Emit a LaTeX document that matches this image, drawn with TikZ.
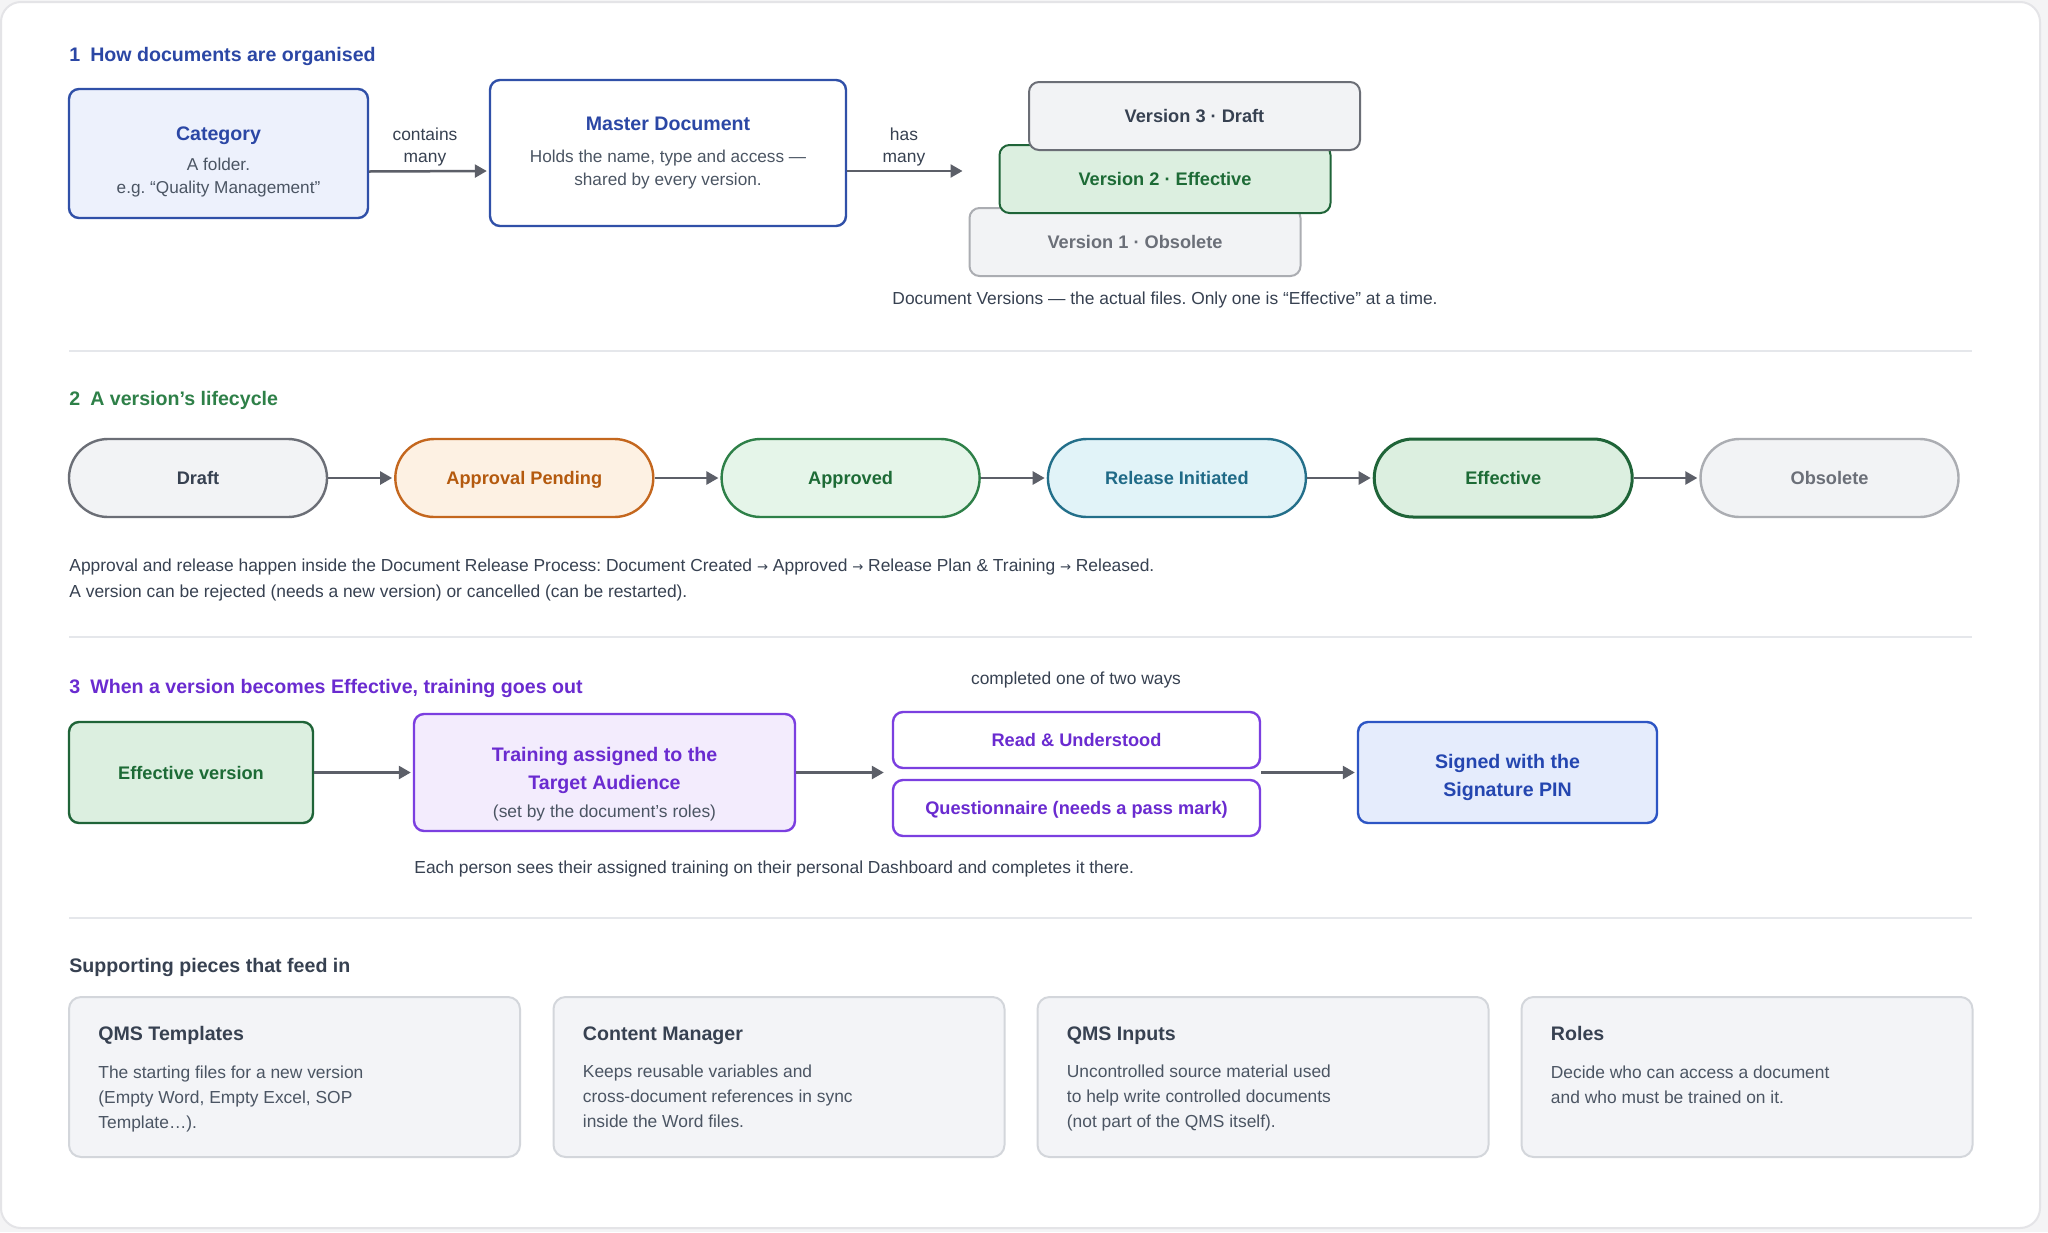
\documentclass[tikz,border=0pt]{standalone}
\usepackage{fontspec}
\setmainfont{Liberation Sans}
\newfontfamily\arrowfont{DejaVu Sans}
\usetikzlibrary{arrows.meta}
\frenchspacing

\definecolor{pagebg}{HTML}{F4F4F5}
\definecolor{frameline}{HTML}{E4E4E7}
\definecolor{ruleline}{HTML}{E5E7EB}
\definecolor{ink}{HTML}{374151}
\definecolor{muted}{HTML}{4B5563}
\definecolor{arrowgray}{HTML}{5C5F68}
\definecolor{blueink}{HTML}{2B47A5}
\definecolor{blueline}{HTML}{3050A8}
\definecolor{bluefill}{HTML}{EDF1FC}
\definecolor{grayfill}{HTML}{F2F3F5}
\definecolor{grayline}{HTML}{6B6E76}
\definecolor{paleline}{HTML}{ABADB2}
\definecolor{paleink}{HTML}{6B6F78}
\definecolor{greenink}{HTML}{1D6B36}
\definecolor{greenfill}{HTML}{DCEFE0}
\definecolor{greenline}{HTML}{1F6438}
\definecolor{lightgreen}{HTML}{E5F5E9}
\definecolor{midgreen}{HTML}{2E8048}
\definecolor{orangeink}{HTML}{B45A0E}
\definecolor{orangefill}{HTML}{FDF1E3}
\definecolor{orangeline}{HTML}{C4671E}
\definecolor{tealink}{HTML}{1F6A87}
\definecolor{tealfill}{HTML}{E1F3F8}
\definecolor{tealline}{HTML}{236F8A}
\definecolor{purpleink}{HTML}{6A2BD0}
\definecolor{purplefill}{HTML}{F3ECFD}
\definecolor{purpleline}{HTML}{7B3FE0}
\definecolor{signink}{HTML}{2446B0}
\definecolor{signfill}{HTML}{E5ECFC}
\definecolor{signline}{HTML}{2D55C4}
\definecolor{cardfill}{HTML}{F3F4F7}
\definecolor{cardline}{HTML}{D3D6DB}

\newcommand{\smallfont}{\fontsize{8.7}{11}\selectfont}
\newcommand{\bodyfont}{\fontsize{8.6}{11.5}\selectfont}
\newcommand{\cardfont}{\fontsize{8.7}{12.4}\selectfont}
\newcommand{\headfont}{\fontsize{9.8}{14}\selectfont\bfseries}
\newcommand{\pillfont}{\fontsize{9.1}{12}\selectfont\bfseries}
\newcommand{\thento}{{\arrowfont\fontsize{6.6}{11}\selectfont\char"2192}}

\begin{document}
\begin{tikzpicture}[x=0.5pt,y=-0.5pt,
	box/.style={draw, rounded corners=5pt, line width=1.2pt, align=center, inner sep=0pt, font=\bodyfont},
	boxtext/.style={align=center, inner sep=0pt},
	oneline/.style={text height=6.5pt, text depth=0pt},
	pill/.style={draw, rounded corners=19.5pt, line width=1.2pt, minimum width=129pt, minimum height=39pt, font=\pillfont, oneline},
	version/.style={draw, rounded corners=5pt, line width=1pt, minimum width=165.5pt, minimum height=34pt, font=\pillfont, oneline},
	card/.style={draw=cardline, fill=cardfill, rounded corners=6pt, line width=1pt, minimum width=225.5pt, minimum height=80pt},
	cardtext/.style={anchor=north west, align=left, inner sep=0pt, font=\cardfont, text=muted},
	note/.style={inner sep=0pt, font=\smallfont, text=ink},
	heading/.style={anchor=west, inner sep=0pt, font=\headfont},
	flow/.style={-{Triangle[length=6pt,width=6.5pt]}, line width=1.25pt, draw=arrowgray, shorten >=1pt}]
	
	% page and frame
	\fill[pagebg] (0,0) rectangle (2048,1232);
	\draw[fill=white, draw=frameline, line width=1pt, rounded corners=10pt] (1,2) rectangle (2040,1228);
	
	% section 1
	\node[heading, text=blueink] (h1) at (69,56) {1\hspace{5pt}How documents are organised};
	
	\node[box, draw=blueline, fill=bluefill, minimum width=149.5pt, minimum height=64.5pt] (cat) at (218.5,153.5) {};
	\node[boxtext, font=\bodyfont, text=muted] at ([yshift=-4pt]cat.center)
		{{\headfont\color{blueink}Category}\\[3.5pt] A folder.\\ e.g. “Quality Management”};
	\node[box, draw=blueline, fill=white, minimum width=178pt, minimum height=73pt, text=muted] (master) at (668,153)
		{{\headfont\color{blueink}Master Document}\\[4.8pt] Holds the name, type and access —\\ shared by every version.};
	
	\node[version, draw=paleline, fill=grayfill, text=paleink] (vone) at (1135,242) {Version 1 · Obsolete};
	\node[version, draw=greenline, fill=greenfill, text=greenink] (vtwo) at (1165,179) {Version 2 · Effective};
	\node[version, draw=grayline, fill=grayfill, text=ink] (vthree) at (1194.5,116) {Version 3 · Draft};
	\node[note] (vcap) at (1165,300) {Document Versions — the actual files. Only one is “Effective” at a time.};
	
	\draw[flow] ([yshift=-9pt]cat.east) -- ([yshift=-9pt]master.west);
	\node[note, align=center] (contains) at (425,147) {contains\\many};
	\draw[flow] ([yshift=-9pt]master.east) -- ([yshift=-9pt,xshift=-2pt]master.east -| vone.west);
	\node[note, align=center] (hasmany) at (904,147) {has\\many};
	
	\draw[ruleline, line width=1pt] (69,351) -- (1972,351);
	
	% section 2
	\node[heading, text=midgreen] (h2) at (69,400) {2\hspace{5pt}A version’s lifecycle};
	
	\node[pill, draw=grayline, fill=grayfill, text=ink] (draft) at (198,478) {Draft};
	\node[pill, draw=orangeline, fill=orangefill, text=orangeink] (pending) at (524.3,478) {Approval Pending};
	\node[pill, draw=midgreen, fill=lightgreen, text=greenink] (approved) at (850.6,478) {Approved};
	\node[pill, draw=tealline, fill=tealfill, text=tealink] (release) at (1176.9,478) {Release Initiated};
	\node[pill, draw=greenline, fill=greenfill, text=greenink, line width=1.5pt] (effective) at (1503.2,478) {Effective};
	\node[pill, draw=paleline, fill=grayfill, text=paleink] (obsolete) at (1829.5,478) {Obsolete};
	
	\draw[flow] (draft) -- (pending);
	\draw[flow] (pending) -- (approved);
	\draw[flow] (approved) -- (release);
	\draw[flow] (release) -- (effective);
	\draw[flow] (effective) -- (obsolete);
	
	\node[note, anchor=west] (process) at (69,567) {Approval and release happen inside the Document Release Process: Document Created \thento{} Approved \thento{} Release Plan \& Training \thento{} Released.};
	\node[note, anchor=west] (rejected) at (69,593) {A version can be rejected (needs a new version) or cancelled (can be restarted).};
	
	\draw[ruleline, line width=1pt] (69,637) -- (1972,637);
	
	% section 3
	\node[heading, text=purpleink] (h3) at (69,688) {3\hspace{5pt}When a version becomes Effective, training goes out};
	
	\node[box, draw=greenline, fill=greenfill, minimum width=122pt, minimum height=50.5pt, font=\pillfont, oneline, text=greenink] (effver) at (191,772.5) {Effective version};
	\node[box, draw=purpleline, fill=purplefill, minimum width=190.5pt, minimum height=58.5pt] (training) at (604.5,772.5) {};
	\node[boxtext, font=\headfont, text=purpleink] at ([yshift=-5.8pt]training.center)
		{Training assigned to the\\ Target Audience\\ {\smallfont\mdseries\color{muted}(set by the document’s roles)}};
	\node[box, draw=purpleline, fill=white, minimum width=183.5pt, minimum height=28pt, font=\pillfont, oneline, text=purpleink] (read) at (1076.5,740) {Read \& Understood};
	\node[box, draw=purpleline, fill=white, minimum width=183.5pt, minimum height=28pt, font=\pillfont, oneline, text=purpleink] (quest) at (1076.5,808) {Questionnaire (needs a pass mark)};
	\node[note] (ways) at (1076,680) {completed one of two ways};
	\node[box, draw=signline, fill=signfill, minimum width=149.5pt, minimum height=50.5pt] (signed) at (1507.5,772.5) {};
	\node[boxtext, font=\headfont, text=signink] at ([yshift=-2.6pt]signed.center) {Signed with the\\ Signature PIN};
	
	\coordinate (choicein) at ([xshift=-3pt]read.south west |- training.east);
	\coordinate (choiceout) at (read.south east |- signed.west);
	\draw[flow] (effver) -- (training);
	\draw[flow] (training.east) -- (choicein);
	\draw[flow] (choiceout) -- (signed.west);
	
	\node[note, anchor=west] (dashboard) at (414,869) {Each person sees their assigned training on their personal Dashboard and completes it there.};
	
	\draw[ruleline, line width=1pt] (69,918) -- (1972,918);
	
	% supporting pieces
	\node[heading, text=ink] (h4) at (69,967) {Supporting pieces that feed in};
	
	\node[card] (templates) at (294.5,1077) {};
	\node[card] (content) at (779,1077) {};
	\node[card] (inputs) at (1263,1077) {};
	\node[card] (roles) at (1747,1077) {};
	
	\node[cardtext] at ([xshift=15pt,yshift=-15pt]templates.north west)
		{{\headfont\color{ink}QMS Templates}\\[6.5pt] The starting files for a new version\\ (Empty Word, Empty Excel, SOP\\ Template…).};
	\node[cardtext] at ([xshift=15pt,yshift=-15pt]content.north west)
		{{\headfont\color{ink}Content Manager}\\[6.5pt] Keeps reusable variables and\\ cross-document references in sync\\ inside the Word files.};
	\node[cardtext] at ([xshift=15pt,yshift=-15pt]inputs.north west)
		{{\headfont\color{ink}QMS Inputs}\\[6.5pt] Uncontrolled source material used\\ to help write controlled documents\\ (not part of the QMS itself).};
	\node[cardtext] at ([xshift=15pt,yshift=-15pt]roles.north west)
		{{\headfont\color{ink}Roles}\\[6.5pt] Decide who can access a document\\ and who must be trained on it.};
\end{tikzpicture}
\end{document}
